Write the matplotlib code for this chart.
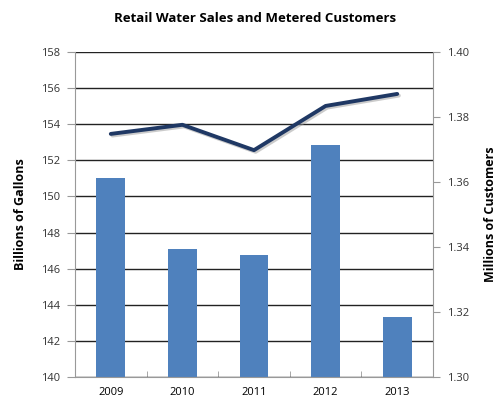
import matplotlib
matplotlib.use("Agg")
import matplotlib.pyplot as plt
import matplotlib.patheffects as pe
import numpy as np

years = ["2009", "2010", "2011", "2012", "2013"]
sales = [151.0, 147.07, 146.75, 152.85, 143.3]
customers = [1.3748, 1.3776, 1.3698, 1.3834, 1.3871]

plt.rcParams['font.family'] = ['Open Sans', 'DejaVu Sans']

fig = plt.figure(figsize=(5, 4), dpi=100)
ax = fig.add_axes([0.15, 0.0575, 0.716, 0.8125])
x = np.arange(len(years))
ax.bar(x, sales, width=0.4, color='#4F81BD', zorder=2)
ax.set_ylim(140, 158)
ax.set_yticks(np.arange(140, 159, 2))
ax.set_xlim(-0.5, 4.5)
ax.set_xticks(x)
ax.set_xticklabels(years)
ax.set_xticks(np.arange(-0.5, 5, 1), minor=True)
ax.tick_params(axis='x', which='major', length=0, labelsize=8, pad=7)
ax.tick_params(axis='x', which='minor', length=4, color='#999999', direction='in')
ax.tick_params(axis='y', length=6, color='#999999', labelsize=8, labelcolor='#333333', pad=5)
ax.grid(axis='y', color='#222222', linewidth=1, zorder=0)
ax.set_axisbelow(True)
for s in ['left', 'right', 'bottom']:
    ax.spines[s].set_color('#999999')
ax.spines['top'].set_visible(False)
ax.set_ylabel('Billions of Gallons', fontsize=9, fontweight='bold', labelpad=10)

ax2 = ax.twinx()
ax2.plot(x, customers, color='#1F3864', linewidth=2.8, solid_capstyle='round', zorder=3,
         path_effects=[pe.SimpleLineShadow(offset=(1.2, -1.2), shadow_color='#999999', alpha=0.5),
                       pe.Normal()])
ax2.set_ylim(1.30, 1.40)
ax2.set_yticks(np.arange(1.30, 1.401, 0.02))
ax2.set_yticklabels([f"{v:.2f}" for v in np.arange(1.30, 1.401, 0.02)])
ax2.tick_params(axis='y', length=5, color='#999999', labelsize=8, labelcolor='#333333', pad=5)
for s in ['left', 'right', 'bottom', 'top']:
    ax2.spines[s].set_visible(False)
ax2.set_ylabel('Millions of Customers', fontsize=9, fontweight='bold', labelpad=11)

fig.text(0.51, 0.955, 'Retail Water Sales and Metered Customers', ha='center', va='center',
         fontsize=9.5, fontweight='bold')

fig.savefig('out.png', dpi=100)
